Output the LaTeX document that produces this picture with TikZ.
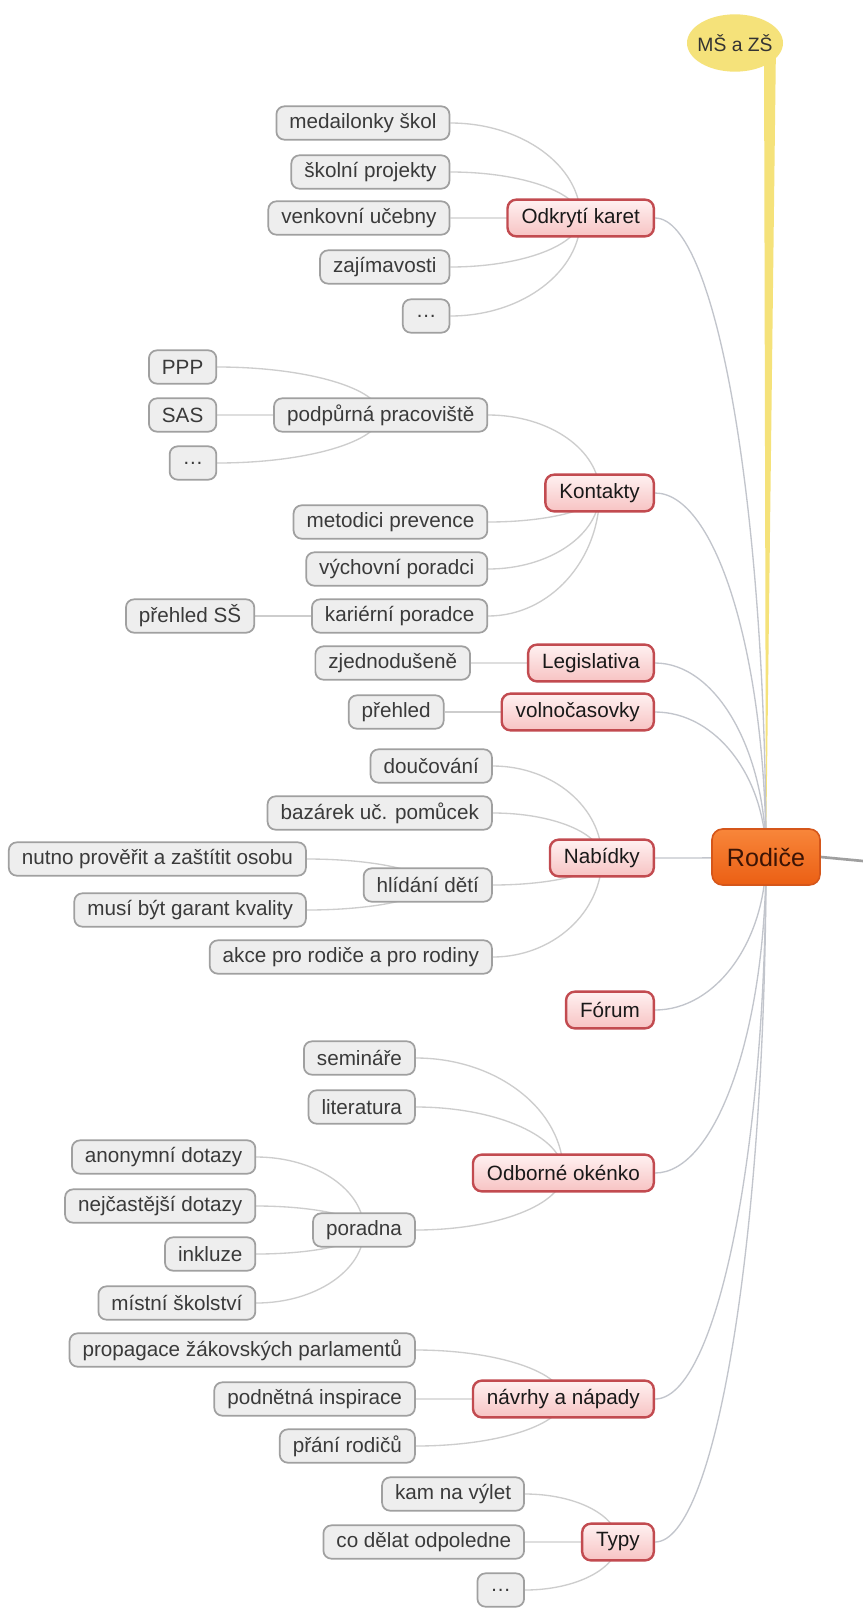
\documentclass[tikz,border=0pt]{standalone}
\usepackage{fontspec}
\setmainfont{Liberation Sans}
\usepackage{xcolor}
\usepackage{tikz}
\usetikzlibrary{shapes.geometric,positioning,calc,backgrounds}

\definecolor{leaffill}{HTML}{EEEEEE}
\definecolor{leafedge}{HTML}{A0A0A0}
\definecolor{leaftext}{HTML}{3A3A3A}
\definecolor{topicedge}{HTML}{C24B50}
\definecolor{topictop}{HTML}{FFF1F1}
\definecolor{topicbot}{HTML}{F7C3C3}
\definecolor{roottop}{HTML}{F8863A}
\definecolor{rootbot}{HTML}{EB5F14}
\definecolor{rootedge}{HTML}{D5561A}
\definecolor{roottext}{HTML}{3C1405}
\definecolor{bubblefill}{HTML}{F5E27A}
\definecolor{linkgray}{HTML}{CDCDCD}
\definecolor{rootlink}{HTML}{C2C5CC}

\begin{document}
\begin{tikzpicture}[x=0.75pt, y=-0.75pt,
    font=\fontsize{15.5}{18}\selectfont,
    leaf/.style={rectangle, draw=leafedge, fill=leaffill, text=leaftext, line width=1.3pt, rounded corners=6pt, minimum height=25pt, inner xsep=9.75pt, inner ysep=0pt, anchor=east},
    topic/.style={rectangle, draw=topicedge, top color=topictop, bottom color=topicbot, text=black!90, line width=1.8pt, rounded corners=6.5pt, minimum height=27.5pt, inner xsep=10.5pt, inner ysep=0pt, anchor=east},
    rootbox/.style={rectangle, draw=rootedge, top color=roottop, bottom color=rootbot, text=roottext, line width=1.2pt, rounded corners=8pt, minimum height=42pt, minimum width=81pt, font=\fontsize{18.8}{22}\selectfont},
    bubble/.style={ellipse, fill=bubblefill, text=black!80, minimum width=72pt, minimum height=43pt, inner xsep=-4.5pt, inner ysep=0pt, font=\fontsize{14.5}{17}\selectfont},
    link/.style={draw=linkgray, line width=1pt,
        to path={.. controls ($(\tikztostart)!0.55!(\tikztostart-|\tikztotarget)$) and ($(\tikztotarget)!0.55!(\tikztostart-|\tikztotarget)$) .. (\tikztotarget)}},
    mainlink/.style={link, draw=rootlink},
    exitline/.style={draw=gray!75, line width=2pt},
    stalk/.style={fill=bubblefill}]

    \useasboundingbox (0,0) rectangle (863,1617);

    \node[rootbox] (rod) at (766,857) {Rodiče};
    \node[bubble] (ms) at (735,43) {MŠ a ZŠ};
    \coordinate (exit) at (863,861);

    % main topics
    \node[topic] (odk) at (655,218) {Odkrytí karet};
    \node[topic] (kon) at (655,493) {Kontakty};
    \node[topic] (leg) at (655,663) {Legislativa};
    \node[topic] (vol) at (655,712) {volnočasovky};
    \node[topic] (nab) at (655,858) {Nabídky};
    \node[topic] (forum) at (655,1010) {Fórum};
    \node[topic] (odb) at (655,1173) {Odborné okénko};
    \node[topic] (nav) at (655,1399) {návrhy a nápady};
    \node[topic] (typ) at (655,1542) {Typy};

    \node[leaf] (med) at ($(odk.west)+(-56,-95)$) {medailonky škol};
    \node[leaf] (skp) at ($(odk.west)+(-56,-46)$) {školní projekty};
    \node[leaf] (ven) at ($(odk.west)+(-56,0)$) {venkovní učebny};
    \node[leaf] (zaj) at ($(odk.west)+(-56,49)$) {zajímavosti};
    \node[leaf] (odkx) at ($(odk.west)+(-56,98)$) {…};

    \node[leaf] (pod) at ($(kon.west)+(-56,-78)$) {podpůrná pracoviště};
    \node[leaf] (ppp) at ($(pod.west)+(-56,-48)$) {PPP};
    \node[leaf] (sas) at ($(pod.west)+(-56,0)$) {SAS};
    \node[leaf] (podx) at ($(pod.west)+(-56,48)$) {…};
    \node[leaf] (met) at ($(kon.west)+(-56,29)$) {metodici prevence};
    \node[leaf] (vyc) at ($(kon.west)+(-56,76)$) {výchovní poradci};
    \node[leaf] (kar) at ($(kon.west)+(-56,123)$) {kariérní poradce};
    \node[leaf] (phs) at ($(kar.west)+(-56,0)$) {přehled SŠ};

    \node[leaf] (zje) at ($(leg.west)+(-56,0)$) {zjednodušeně};
    \node[leaf] (pre) at ($(vol.west)+(-56,0)$) {přehled};

    \node[leaf] (dou) at ($(nab.west)+(-56,-92)$) {doučování};
    \node[leaf] (baz) at ($(nab.west)+(-56,-45)$) {bazárek uč. pomůcek};
    \node[leaf] (hli) at ($(nab.west)+(-56,27)$) {hlídání dětí};
    \node[leaf] (nut) at ($(hli.west)+(-56,-26)$) {nutno prověřit a zaštítit osobu};
    \node[leaf] (mus) at ($(hli.west)+(-56,25)$) {musí být garant kvality};
    \node[leaf] (akc) at ($(nab.west)+(-56,99)$) {akce pro rodiče a pro rodiny};

    \node[leaf] (sem) at ($(odb.west)+(-56,-115)$) {semináře};
    \node[leaf] (lit) at ($(odb.west)+(-56,-66)$) {literatura};
    \node[leaf] (por) at ($(odb.west)+(-56,57)$) {poradna};
    \node[leaf] (ano) at ($(por.west)+(-56,-73)$) {anonymní dotazy};
    \node[leaf] (nej) at ($(por.west)+(-56,-24)$) {nejčastější dotazy};
    \node[leaf] (ink) at ($(por.west)+(-56,24)$) {inkluze};
    \node[leaf] (mis) at ($(por.west)+(-56,73)$) {místní školství};

    \node[leaf] (pro) at ($(nav.west)+(-56,-49)$) {propagace žákovských parlamentů};
    \node[leaf] (pin) at ($(nav.west)+(-56,0)$) {podnětná inspirace};
    \node[leaf] (pra) at ($(nav.west)+(-56,47)$) {přání rodičů};

    \node[leaf] (kam) at ($(typ.west)+(-56,-48)$) {kam na výlet};
    \node[leaf] (cod) at ($(typ.west)+(-56,0)$) {co dělat odpoledne};
    \node[leaf] (typx) at ($(typ.west)+(-56,48)$) {…};

    \begin{scope}[on background layer]
        \fill[white] (0,0) rectangle (863,1617);
        \fill[stalk] ($(ms.center)+(29,0)$) -- ($(ms.center)+(41,0)$) -- (rod.center) -- cycle;
        \draw[exitline] (rod.east) -- (exit);

        \foreach \t in {odk,kon,leg,vol,nab,forum,odb,nav,typ}
            \draw[mainlink] (\t.east) to (rod.center);

        \foreach \c in {med,skp,ven,zaj,odkx}
            \draw[link] (\c.east) to (odk.center);
        \foreach \c in {pod,met,vyc,kar}
            \draw[link] (\c.east) to (kon.center);
        \foreach \c in {ppp,sas,podx}
            \draw[link] (\c.east) to (pod.center);
        \draw[link] (phs.east) to (kar.center);
        \draw[link] (zje.east) to (leg.center);
        \draw[link] (pre.east) to (vol.center);
        \foreach \c in {dou,baz,hli,akc}
            \draw[link] (\c.east) to (nab.center);
        \foreach \c in {nut,mus}
            \draw[link] (\c.east) to (hli.center);
        \foreach \c in {sem,lit,por}
            \draw[link] (\c.east) to (odb.center);
        \foreach \c in {ano,nej,ink,mis}
            \draw[link] (\c.east) to (por.center);
        \foreach \c in {pro,pin,pra}
            \draw[link] (\c.east) to (nav.center);
        \foreach \c in {kam,cod,typx}
            \draw[link] (\c.east) to (typ.center);
    \end{scope}

\end{tikzpicture}
\end{document}
